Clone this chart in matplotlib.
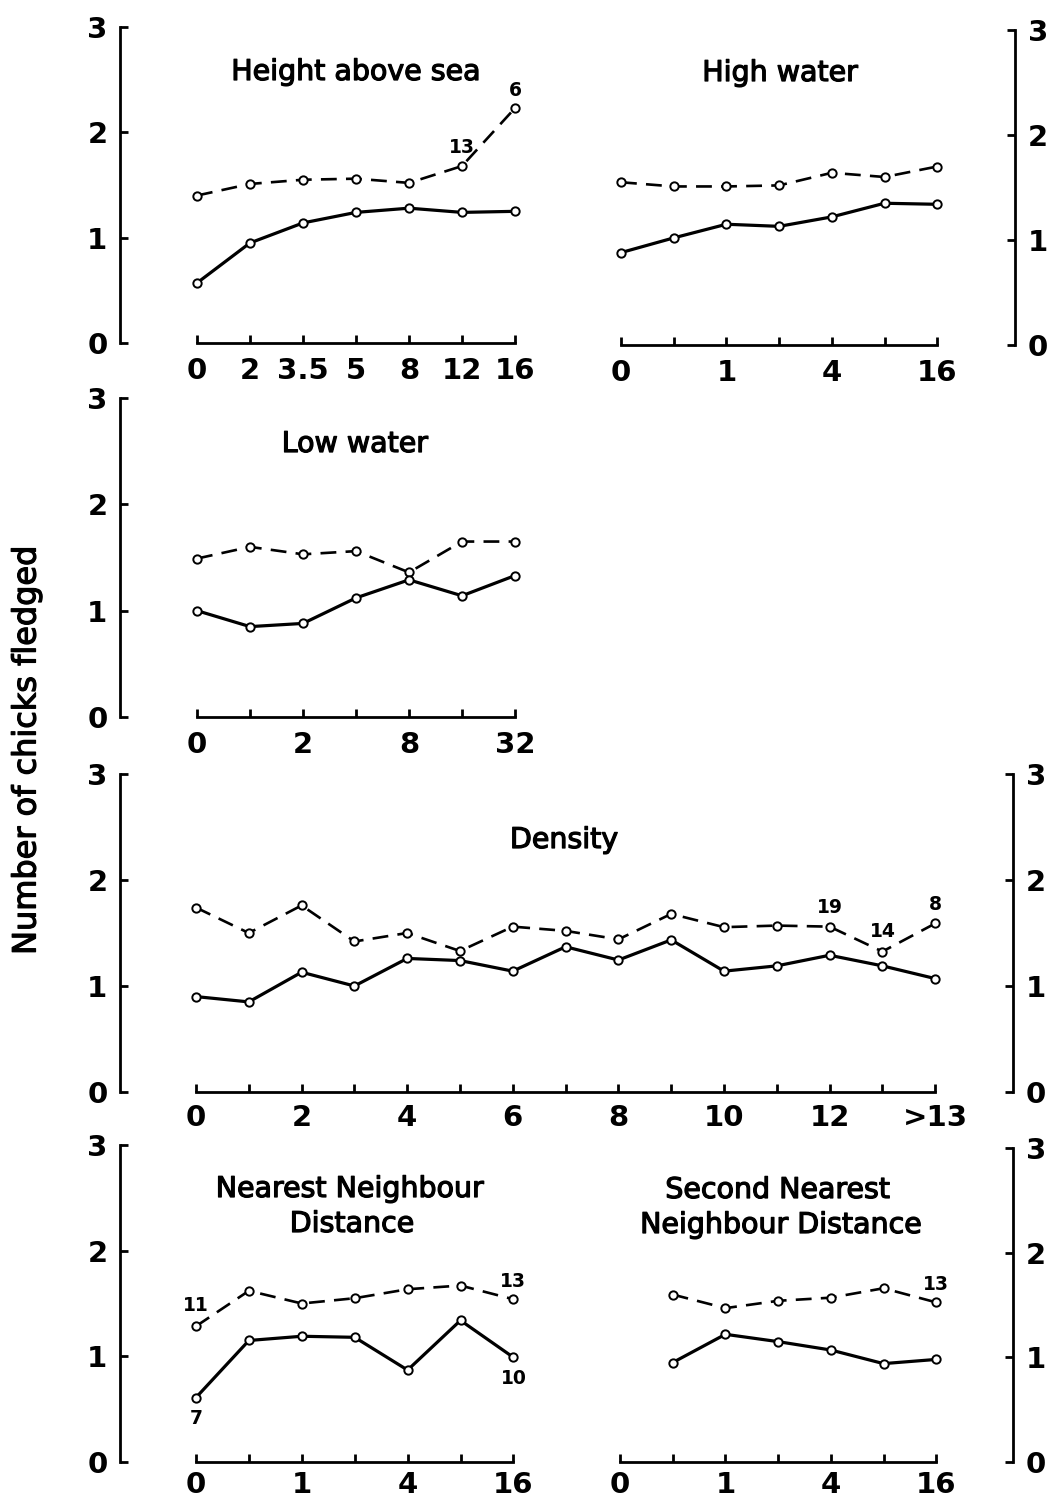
import matplotlib
matplotlib.use("Agg")
import matplotlib.pyplot as plt
import matplotlib.patheffects as pe

plt.rcParams['font.family'] = ['DejaVu Sans']

# ---- data ----
height_x = [0, 1, 2, 3, 4, 5, 6]
height_solid = [0.57, 0.95, 1.14, 1.24, 1.28, 1.24, 1.25]
height_dashed = [1.40, 1.51, 1.55, 1.56, 1.52, 1.68, 2.23]
height_ticklabels = ['0', '2', '3.5', '5', '8', '12', '16']

high_x = [0, 1, 2, 3, 4, 5, 6]
high_solid = [0.88, 1.02, 1.15, 1.13, 1.22, 1.35, 1.34]
high_dashed = [1.55, 1.51, 1.51, 1.52, 1.64, 1.60, 1.70]
high_ticklabels = ['0', '', '1', '', '4', '', '16']

low_x = [0, 1, 2, 3, 4, 5, 6]
low_solid = [1.00, 0.85, 0.88, 1.12, 1.29, 1.14, 1.33]
low_dashed = [1.49, 1.60, 1.53, 1.56, 1.36, 1.65, 1.65]
low_ticklabels = ['0', '', '2', '', '8', '', '32']

density_x = list(range(15))
density_solid = [0.90, 0.85, 1.13, 1.00, 1.26, 1.24, 1.14, 1.37, 1.245, 1.435,
                 1.14, 1.19, 1.29, 1.19, 1.07]
density_dashed = [1.74, 1.50, 1.76, 1.42, 1.50, 1.33, 1.56, 1.52, 1.44, 1.68,
                  1.555, 1.57, 1.56, 1.325, 1.59]
density_ticklabels = ['0', '', '2', '', '4', '', '6', '', '8', '', '10', '', '12', '', '>13']

nn_x = [0, 1, 2, 3, 4, 5, 6]
nn_solid = [0.61, 1.15, 1.19, 1.18, 0.87, 1.34, 0.99]
nn_dashed = [1.285, 1.62, 1.50, 1.55, 1.635, 1.67, 1.54]
nn_ticklabels = ['0', '', '1', '', '4', '', '16']

snn_x = [1, 2, 3, 4, 5, 6]
snn_solid = [0.95, 1.22, 1.15, 1.07, 0.94, 0.98]
snn_dashed = [1.60, 1.47, 1.54, 1.57, 1.66, 1.525]
snn_ticklabels = ['0', '', '1', '', '4', '', '16']

# sample sizes written next to some points: (series, point index, text, offset px)
height_notes = [('d', 5, '13', 19), ('d', 6, '6', 18)]
density_notes = [('d', 12, '19', 19), ('d', 13, '14', 20), ('d', 14, '8', 19)]
nn_notes = [('d', 0, '11', 21), ('s', 0, '7', -21), ('d', 6, '13', 18), ('s', 6, '10', -21)]
snn_notes = [('d', 5, '13', 18)]

W, H = 1051, 1499
fig = plt.figure(figsize=(W / 100, H / 100), dpi=100)
fig.patch.set_facecolor('white')

TICKFONT = dict(fontsize=21, fontweight='bold')
THICK = [pe.withStroke(linewidth=0.9, foreground='black')]


def panel(box, x0, step, xs, solid, dashed, ticklabels, side, notes, xpad=10):
    left, right, top, bottom = box
    ax = fig.add_axes([left / W, 1 - bottom / H, (right - left) / W, (bottom - top) / H])
    ax.patch.set_visible(False)
    ax.set_xlim((left - x0) / step, (right - x0) / step)
    ax.set_ylim(0, 3)

    ax.plot(xs, dashed, color='black', lw=1.9, ls=(0, (6, 3.5)), marker='o', ms=6,
            mfc='white', mec='black', mew=1.4, clip_on=False)
    ax.plot(xs, solid, color='black', lw=2.3, marker='o', ms=6,
            mfc='white', mec='black', mew=1.4, clip_on=False)

    for ser, i, txt, dy in notes:
        yv = dashed[i] if ser == 'd' else solid[i]
        ax.annotate(txt, (xs[i], yv), xytext=(0, dy), textcoords='offset pixels',
                    ha='center', va='center', fontsize=13.5, fontweight='bold')

    for s in ['top', 'left', 'right']:
        ax.spines[s].set_visible(False)
    ax.spines['bottom'].set_linewidth(2)
    ax.spines['bottom'].set_bounds(0, len(ticklabels) - 1)
    ax.set_xticks(range(len(ticklabels)))
    ax.set_xticklabels(ticklabels, **TICKFONT)
    ax.tick_params(axis='x', direction='in', length=6, width=2, pad=xpad)

    ax.set_yticks([0, 1, 2, 3])
    ax.set_yticklabels(['0', '1', '2', '3'], **TICKFONT)
    if side in ('left', 'both'):
        ax.spines['left'].set_visible(True)
        ax.spines['left'].set_linewidth(2)
    if side in ('right', 'both'):
        ax.spines['right'].set_visible(True)
        ax.spines['right'].set_linewidth(2)
    ax.tick_params(axis='y', direction='in', length=6, width=2, pad=9,
                   left=side in ('left', 'both'), labelleft=side in ('left', 'both'),
                   right=side in ('right', 'both'), labelright=side in ('right', 'both'))
    return ax


panel((120, 545, 27, 343), 197, 53.0, height_x, height_solid, height_dashed,
      height_ticklabels, 'left', height_notes)
panel((595, 1015, 30, 345), 621, 52.7, high_x, high_solid, high_dashed,
      high_ticklabels, 'right', [])
panel((120, 545, 398, 717), 197, 53.0, low_x, low_solid, low_dashed,
      low_ticklabels, 'left', [])
panel((120, 1013, 774, 1092), 196, 52.8, density_x, density_solid, density_dashed,
      density_ticklabels, 'both', density_notes, xpad=9)
panel((120, 545, 1145, 1462), 196, 52.9, nn_x, nn_solid, nn_dashed,
      nn_ticklabels, 'left', nn_notes, xpad=6.5)
panel((595, 1013, 1148, 1462), 620, 52.7, snn_x, snn_solid, snn_dashed,
      snn_ticklabels, 'right', snn_notes, xpad=6.5)


def ftext(x, y, s, **kw):
    fig.text(x / W, 1 - y / H, s, path_effects=THICK, **kw)


TITLE = dict(fontsize=20.5, ha='center', va='baseline')
ftext(356, 80, 'Height above sea', **TITLE)
ftext(780, 81, 'High water', **TITLE)
ftext(355, 452, 'Low water', **TITLE)
ftext(564, 848, 'Density', **TITLE)
ftext(350, 1197, 'Nearest Neighbour', **TITLE)
ftext(352, 1232, 'Distance', **TITLE)
ftext(778, 1198, 'Second Nearest', **TITLE)
ftext(781, 1233, 'Neighbour Distance', **TITLE)

ftext(27, 750, 'Number of chicks fledged', fontsize=23, rotation=90,
      ha='center', va='center')

fig.savefig('out.png', dpi=100, facecolor='white')
